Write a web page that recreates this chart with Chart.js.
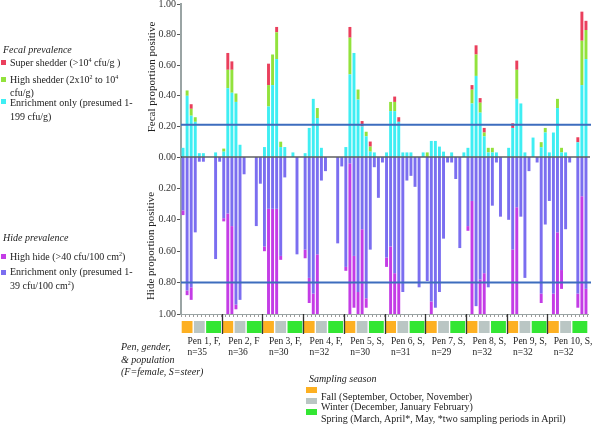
<!DOCTYPE html>
<html>
<head>
<meta charset="utf-8">
<script src="https://cdn.jsdelivr.net/npm/chart.js@4.4.1/dist/chart.umd.min.js"></script>
<style>
  body { margin: 0; background: #fff; }
  #wrap { position: relative; width: 592px; height: 426px; overflow: hidden; font-family: "Liberation Serif", "DejaVu Serif", serif; color: #222; }
  #c { position: absolute; left: 0; top: 0; }
  .t { position: absolute; font-size: 10px; line-height: 12px; white-space: nowrap; }
  .i { font-style: italic; }
  .sw { position: absolute; width: 5px; height: 5px; }
  .rot { position: absolute; font-size: 11px; white-space: nowrap; transform: translate(-50%, -50%) rotate(-90deg); }
  sup { font-size: 6px; vertical-align: 4px; line-height: 0; }
</style>
</head>
<body>
<div id="wrap">
  <canvas id="c" width="592" height="426"></canvas>

  <div class="t i" style="left:3px;top:44px">Fecal prevalence</div>
  <div class="sw" style="left:1px;top:60px;background:#EA3F5C"></div>
  <div class="t" style="left:10px;top:57px">Super shedder (&gt;10<sup>4</sup> cfu/g )</div>
  <div class="sw" style="left:1px;top:77px;background:#92E23C"></div>
  <div class="t" style="left:10px;top:74px">High shedder (2x10<sup>2</sup> to 10<sup>4</sup></div>
  <div class="t" style="left:10px;top:87px">cfu/g)</div>
  <div class="sw" style="left:1px;top:99px;background:#3FEEF3"></div>
  <div class="t" style="left:10px;top:97px">Enrichment only (presumed 1-</div>
  <div class="t" style="left:10px;top:111px">199 cfu/g)</div>

  <div class="t i" style="left:3px;top:232px">Hide prevalence</div>
  <div class="sw" style="left:1px;top:254px;background:#C43CE6"></div>
  <div class="t" style="left:10px;top:251px">High hide (&gt;40 cfu/100 cm<sup>2</sup>)</div>
  <div class="sw" style="left:1px;top:270px;background:#7B6EF0"></div>
  <div class="t" style="left:10px;top:266px">Enrichment only (presumed 1-</div>
  <div class="t" style="left:10px;top:280px">39 cfu/100 cm<sup>2</sup>)</div>

  <div class="rot" style="left:151px;top:77px">Fecal proportion positive</div>
  <div class="rot" style="left:150px;top:246px">Hide proportion positive</div>

  <div class="t i" style="left:121px;top:341px">Pen, gender,</div>
  <div class="t i" style="left:121px;top:354px">&amp; population</div>
  <div class="t i" style="left:121px;top:366px">(F=female, S=steer)</div>

  <div class="t i" style="left:309px;top:373px">Sampling season</div>
  <div class="sw" style="left:306px;top:387px;width:11px;height:6px;background:#FDB022"></div>
  <div class="sw" style="left:306px;top:398px;width:11px;height:6px;background:#BAC6C4"></div>
  <div class="sw" style="left:306px;top:409px;width:11px;height:6px;background:#33E633"></div>
  <div class="t" style="left:321px;top:391px">Fall (September, October, November)</div>
  <div class="t" style="left:321px;top:401px">Winter (December, January February)</div>
  <div class="t" style="left:321px;top:413px">Spring (March, April*, May, *two sampling periods in April)</div>
</div>

<script>
// pens and their sampling slots (3 fall, 3 winter, 4 spring)
const pens = ["Pen 1, F,", "Pen 2, F", "Pen 3, F,", "Pen 4, F,", "Pen 5, S,", "Pen 6, S,", "Pen 7, S,", "Pen 8, S,", "Pen 9, S,", "Pen 10, S,"];
const penN = ["n=35", "n=36", "n=30", "n=32", "n=30", "n=31", "n=29", "n=32", "n=32", "n=32"];
const slotSeason = ["fall", "fall", "fall", "winter", "winter", "winter", "spring", "spring", "spring", "spring"];
const seasonColors = { fall: "#FDB022", winter: "#BAC6C4", spring: "#33E633" };
const yTicks = [0, 0.2, 0.4, 0.6, 0.8, 1];
const fecalRef = 0.21;
const hideRef = 0.8;

// fecal prevalence, one value per slot (10 per pen)
const fecalEnrich = [
  .06, .40, .27, .23, .025, .025, 0, 0, .03, 0,
  .035, .45, .42, .36, .08, 0, 0, 0, 0, 0,
  .065, .33, .47, .64, .065, .065, 0, .03, 0, 0,
  .025, .19, .38, .255, .06, 0, 0, 0, 0, 0,
  .065, .54, .68, .375, .20, .135, .035, .03, 0, 0,
  .03, .30, .30, .23, .03, .03, .03, 0, 0, .03,
  0, .105, .105, .068, .035, 0, .03, 0, 0, .03,
  .06, .35, .53, .29, .135, .03, .03, .03, 0, 0,
  .06, .19, .38, .35, .03, 0, .127, 0, .064, .16,
  .03, .16, .32, .03, .03, 0, 0, .096, .47, .64
];
const fecalHigh = [
  0, .035, .045, .03, 0, 0, 0, 0, 0, 0,
  .02, .12, .15, .055, 0, 0, 0, 0, 0, 0,
  0, .14, .20, .175, .035, 0, 0, 0, 0, 0,
  0, 0, 0, .065, 0, 0, 0, 0, 0, 0,
  0, .24, 0, .066, 0, .03, .033, 0, 0, 0,
  0, .06, .06, 0, 0, 0, 0, 0, 0, 0,
  .03, 0, 0, 0, 0, 0, 0, 0, 0, 0,
  0, .09, .14, .065, .025, .03, .03, 0, 0, 0,
  0, 0, .19, 0, 0, 0, 0, 0, .033, .03,
  0, 0, .06, .03, 0, 0, 0, 0, .29, .19
];
const fecalSuper = [
  0, 0, .03, 0, 0, 0, 0, 0, 0, 0,
  0, .11, .055, 0, 0, 0, 0, 0, 0, 0,
  0, .14, 0, .035, 0, 0, 0, 0, 0, 0,
  0, 0, 0, 0, 0, 0, 0, 0, 0, 0,
  0, .07, 0, 0, .035, 0, .033, 0, 0, 0,
  0, 0, .035, .03, 0, 0, 0, 0, 0, 0,
  0, 0, 0, 0, 0, 0, 0, 0, 0, 0,
  0, .03, .06, .03, .03, 0, 0, 0, 0, 0,
  0, .03, .06, 0, 0, 0, 0, 0, 0, 0,
  0, 0, 0, 0, 0, 0, 0, .033, .19, .06
];

// hide prevalence
const hideEnrich = [
  .34, .85, .83, .48, .03, .03, 0, 0, .65, .03,
  .39, .36, .44, .94, .91, .11, 0, 0, .44, .17,
  .57, .33, .33, .33, .63, .13, 0, 0, .62, 0,
  .59, .77, .87, .62, .15, .09, 0, 0, .55, .06,
  .70, .04, .63, .86, .46, .90, .59, .065, .26, .035,
  .64, .57, .74, .80, .86, .15, .12, .19, .83, 0,
  .79, .92, .96, .86, .52, .035, .035, .14, .58, 0,
  .44, .28, .95, .78, .74, .83, .31, .035, .38, 0,
  .40, .59, .32, .38, .77, .09, 0, .035, .87, .43,
  .28, .87, .48, .72, .46, .035, 0, .87, .25, .84
];
const hideHigh = [
  .03, .03, .08, 0, 0, 0, 0, 0, 0, 0,
  .02, .64, .56, .03, 0, 0, 0, 0, 0, 0,
  .03, .67, .67, .67, .025, 0, 0, 0, 0, 0,
  .055, .16, .13, .38, 0, 0, 0, 0, 0, 0,
  .025, .96, .33, .14, .54, .06, 0, 0, 0, 0,
  .06, .43, .26, .20, 0, 0, 0, 0, 0, 0,
  0, .08, 0, 0, 0, 0, 0, 0, 0, 0,
  .03, .72, 0, .22, .26, 0, 0, 0, 0, 0,
  0, .41, .68, 0, 0, 0, 0, 0, .06, 0,
  0, .13, .52, .12, 0, 0, 0, .09, .75, .16
];

const categories = [];
pens.forEach((p, i) => slotSeason.forEach((s, j) => categories.push((i + 1) + "-" + (j + 1))));

const tickFont = { family: "Liberation Serif", size: 10 };

// lines, season strip and pen dividers under the plot
const extras = {
    id: "extras",
    afterDatasetsDraw(chart) {
        const { ctx, chartArea: a, scales } = chart;
        const x = scales.x;
        const step = x.getPixelForValue(1) - x.getPixelForValue(0);
        ctx.save();

        const y0 = scales.yF.getPixelForValue(0);
        ctx.strokeStyle = "#111";
        ctx.lineWidth = 1.2;
        ctx.beginPath();
        ctx.moveTo(a.left, y0);
        ctx.lineTo(a.right + 2, y0);
        ctx.stroke();

        ctx.strokeStyle = "#3D6DBE";
        ctx.lineWidth = 2;
        [scales.yF.getPixelForValue(fecalRef), scales.yH.getPixelForValue(hideRef)].forEach((y) => {
            ctx.beginPath();
            ctx.moveTo(a.left, y);
            ctx.lineTo(a.right + 3, y);
            ctx.stroke();
        });

        // season strip
        let start = 0;
        for (let i = 1; i <= categories.length; i++) {
            const prev = slotSeason[(i - 1) % 10];
            if (i === categories.length || slotSeason[i % 10] !== prev || i % 10 === 0) {
                const x1 = x.getPixelForValue(start) - step / 2 + 0.7;
                const x2 = x.getPixelForValue(i - 1) + step / 2 - 0.7;
                ctx.fillStyle = seasonColors[prev];
                ctx.fillRect(x1, a.bottom + 7, x2 - x1, 12);
                start = i;
            }
        }

        ctx.strokeStyle = "#333";
        ctx.lineWidth = 1.3;
        for (let p = 1; p < pens.length; p++) {
            const px = Math.round(x.getPixelForValue(p * 10) - step / 2) + 0.5;
            ctx.beginPath();
            ctx.moveTo(px, a.bottom);
            ctx.lineTo(px, a.bottom + 20);
            ctx.stroke();
        }
        ctx.restore();
    },
};

const ctx = document.getElementById("c").getContext("2d");
const chart = new Chart(ctx, {
    type: "bar",
    data: {
        labels: categories,
        datasets: [
            { label: "Enrichment only", data: fecalEnrich, backgroundColor: "#3FEEF3", yAxisID: "yF", stack: "a" },
            { label: "High shedder", data: fecalHigh, backgroundColor: "#92E23C", yAxisID: "yF", stack: "a" },
            { label: "Super shedder", data: fecalSuper, backgroundColor: "#EA3F5C", yAxisID: "yF", stack: "a" },
            { label: "Hide enrichment only", data: hideEnrich, backgroundColor: "#7B6EF0", yAxisID: "yH", stack: "a" },
            { label: "High hide", data: hideHigh, backgroundColor: "#C43CE6", yAxisID: "yH", stack: "a" },
        ],
    },
    options: {
        responsive: false,
        animation: false,
        devicePixelRatio: 1,
        categoryPercentage: 1,
        barPercentage: 0.72,
        layout: { padding: { left: 0, right: 4, top: 4, bottom: 0 } },
        plugins: { legend: { display: false }, tooltip: { enabled: false } },
        scales: {
            x: {
                stacked: true,
                ticks: { display: false },
                grid: { drawOnChartArea: false, tickLength: 3, color: "#9a9a9a" },
                border: { color: "#9aa4a4", width: 1 },
                afterFit: (s) => { s.height = 112; },
            },
            // hide axis declared first so it lands under the fecal axis
            yH: {
                position: "left",
                stack: "v",
                stackWeight: 157,
                stacked: true,
                reverse: true,
                min: 0,
                max: 1,
                afterBuildTicks: (s) => { s.ticks = yTicks.map((v) => ({ value: v })); },
                ticks: { font: tickFont, color: "#333", padding: 1, callback: (v) => (v === 0 ? "" : Number(v).toFixed(2)) },
                grid: { drawOnChartArea: false, tickLength: 4, color: "#555" },
                border: { color: "#9aa4a4", width: 2 },
                afterFit: (s) => { s.width = 181; s.paddingTop = 0; s.paddingBottom = 0; },
            },
            yF: {
                position: "left",
                stack: "v",
                stackWeight: 153,
                stacked: true,
                min: 0,
                max: 1,
                afterBuildTicks: (s) => { s.ticks = yTicks.map((v) => ({ value: v })); },
                ticks: { font: tickFont, color: "#333", padding: 1, callback: (v) => Number(v).toFixed(2) },
                grid: { drawOnChartArea: false, tickLength: 4, color: "#555" },
                border: { color: "#9aa4a4", width: 2 },
                afterFit: (s) => { s.width = 181; s.paddingTop = 0; s.paddingBottom = 0; },
            },
        },
    },
    plugins: [extras],
});

// pen labels under the season strip
const wrap = document.getElementById("wrap");
const xs = chart.scales.x;
const step = xs.getPixelForValue(1) - xs.getPixelForValue(0);
pens.forEach((p, i) => {
    const left = xs.getPixelForValue(i * 10) - step / 2 + 6.5;
    const d = document.createElement("div");
    d.className = "t";
    d.style.left = left + "px";
    d.style.top = (chart.chartArea.bottom + 22) + "px";
    d.style.lineHeight = "10.5px";
    d.style.fontSize = "9.5px";
    d.innerHTML = p + "<br>" + penN[i];
    wrap.appendChild(d);
});
</script>
</body>
</html>
